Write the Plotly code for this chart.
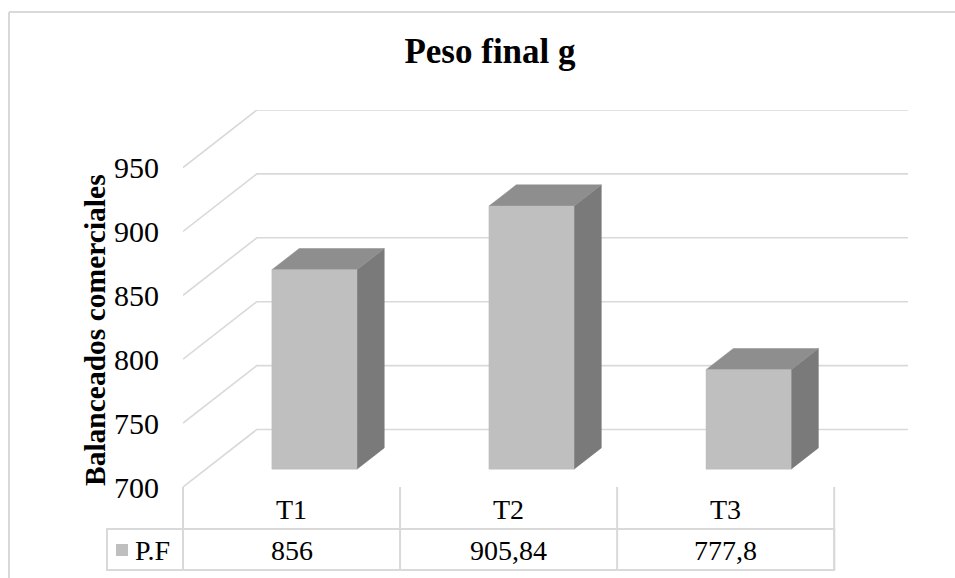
import plotly.graph_objects as go

# Data
categories = ["T1", "T2", "T3"]
series_name = "P.F"
values = [856, 905.84, 777.8]
tick_values = [700, 750, 800, 850, 900, 950]

# Styling / 3D projection settings
FONT = "Liberation Serif"
GRID = "#d9d9d9"
FRONT = "#bfbfbf"
TOP = "#8e8e8e"
SIDE = "#7a7a7a"
Y_MIN, Y_MAX = 700, 950
DX = 0.34          # depth offset along x (category units)
DY = 45.0          # depth offset along y (value units)
BAR_W = 0.392      # bar width (category units)
D0, D1 = 0.31, 0.68  # bar depth extent (fraction of floor depth)

W, H = 955, 578
ML, MR, MT, MB = 183, 47, 110, 91
PW, PH = W - ML - MR, H - MT - MB


def px_x(px):
    return (px - ML) / PW


def px_y(py):
    return (H - MB - py) / PH


def fmt(v):
    return f"{v:g}".replace(".", ",")


fig = go.Figure()
n = len(categories)

# Gridlines on the side wall and back wall
for v in tick_values:
    fig.add_trace(go.Scatter(
        x=[0, DX, n + DX], y=[v, v + DY, v + DY], mode="lines",
        line=dict(color=GRID, width=1.6), hoverinfo="skip", showlegend=False))

# 3D columns: side, top and front faces
for i, v in enumerate(values):
    x0 = i + 0.5 - BAR_W / 2
    x1 = i + 0.5 + BAR_W / 2
    ax, ay = D0 * DX, D0 * DY
    bx, by = D1 * DX, D1 * DY
    faces = [
        ([x1 + ax, x1 + bx, x1 + bx, x1 + ax, x1 + ax],
         [Y_MIN + ay, Y_MIN + by, v + by, v + ay, Y_MIN + ay], SIDE),
        ([x0 + ax, x1 + ax, x1 + bx, x0 + bx, x0 + ax],
         [v + ay, v + ay, v + by, v + by, v + ay], TOP),
        ([x0 + ax, x1 + ax, x1 + ax, x0 + ax, x0 + ax],
         [Y_MIN + ay, Y_MIN + ay, v + ay, v + ay, Y_MIN + ay], FRONT),
    ]
    for fx, fy, col in faces:
        fig.add_trace(go.Scatter(
            x=fx, y=fy, mode="lines", fill="toself", fillcolor=col,
            line=dict(color=col, width=0.5), hoverinfo="skip",
            showlegend=False))

shapes = []
line_style = dict(color=GRID, width=2)

# Chart frame
shapes.append(dict(type="line", xref="paper", yref="paper",
                   x0=px_x(9), x1=px_x(9), y0=px_y(12), y1=px_y(H + 5),
                   line=line_style))
shapes.append(dict(type="line", xref="paper", yref="paper",
                   x0=px_x(9), x1=px_x(W + 5), y0=px_y(12), y1=px_y(12),
                   line=line_style))

# Data table grid
col_w = PW / (n + DX)
hdr_top, hdr_bot, row_bot = H - MB, 529, 570
tbl_left = 107
for k in range(n + 1):
    xp = ML + k * col_w
    shapes.append(dict(type="line", xref="paper", yref="paper",
                       x0=px_x(xp), x1=px_x(xp),
                       y0=px_y(hdr_top), y1=px_y(row_bot), line=line_style))
shapes.append(dict(type="rect", xref="paper", yref="paper",
                   x0=px_x(tbl_left), x1=px_x(ML + n * col_w),
                   y0=px_y(hdr_bot), y1=px_y(row_bot), line=line_style))
# Legend key
shapes.append(dict(type="rect", xref="paper", yref="paper",
                   x0=px_x(116), x1=px_x(128), y0=px_y(544), y1=px_y(556),
                   fillcolor=FRONT, line=dict(width=0)))

annotations = []
txt_font = dict(family=FONT, size=28, color="#000000")
for i, (c, v) in enumerate(zip(categories, values)):
    annotations.append(dict(x=i + 0.5, xref="x", y=px_y(509), yref="paper",
                            text=c, showarrow=False, font=txt_font,
                            xanchor="center", yanchor="middle"))
    annotations.append(dict(x=i + 0.5, xref="x", y=px_y(550), yref="paper",
                            text=fmt(v), showarrow=False, font=txt_font,
                            xanchor="center", yanchor="middle"))
annotations.append(dict(x=px_x(133), xref="paper", y=px_y(550), yref="paper",
                        text=series_name, showarrow=False, font=txt_font,
                        xanchor="left", yanchor="middle"))
# Axis title
annotations.append(dict(x=px_x(95), xref="paper", y=px_y(330), yref="paper",
                        text="<b>Balanceados comerciales</b>", textangle=-90,
                        showarrow=False,
                        font=dict(family=FONT, size=29.5, color="#000000"),
                        xanchor="center", yanchor="middle"))

fig.update_layout(
    width=W, height=H,
    margin=dict(l=ML, r=MR, t=MT, b=MB),
    paper_bgcolor="white", plot_bgcolor="white",
    title=dict(text="<b>Peso final g</b>", x=490 / W, xanchor="center",
               y=1 - 51 / H, yanchor="middle",
               font=dict(family=FONT, size=35, color="#000000")),
    xaxis=dict(range=[0, n + DX], visible=False, fixedrange=True),
    yaxis=dict(range=[Y_MIN, Y_MAX + DY], tickvals=tick_values,
               showgrid=False, zeroline=False, showline=False, ticks="",
               ticklabelstandoff=23, fixedrange=True,
               tickfont=dict(family=FONT, size=30, color="#000000")),
    shapes=shapes,
    annotations=annotations,
    showlegend=False,
)

fig.write_html("out.html")
